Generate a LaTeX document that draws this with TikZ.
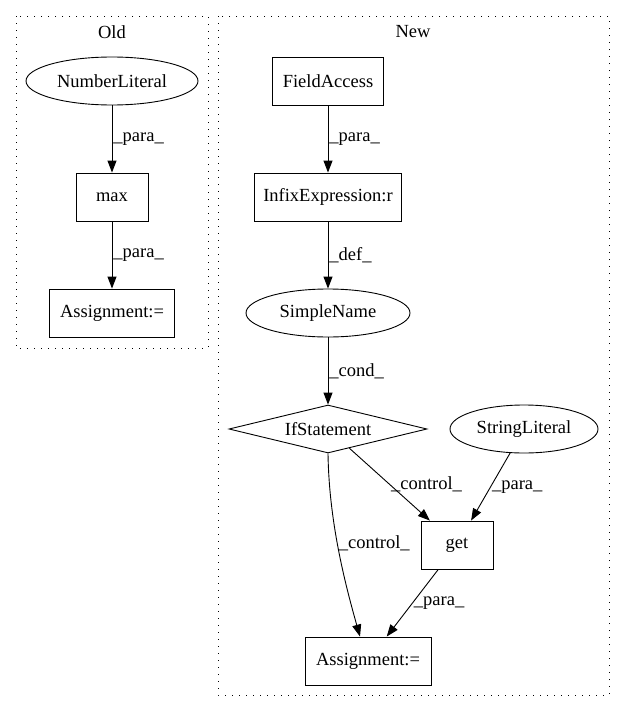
\documentclass[tikz,border=0pt]{standalone}
\usepackage{fontspec}
\setmainfont{Liberation Serif}
\usetikzlibrary{shapes.geometric}
\usetikzlibrary{arrows.meta}

\begin{document}
\begin{tikzpicture}[x=1pt,y=-1pt,font=\fontsize{18.5}{21}\selectfont,
	box/.style={draw,rectangle,line width=0.9pt,minimum height=48pt,inner sep=2pt},
	ellip/.style={draw,ellipse,line width=0.9pt,minimum height=48pt,inner sep=0pt},
	cluster/.style={line width=0.9pt,dash pattern=on 1.2pt off 5.8pt},
	edge/.style={line width=0.9pt,-{Triangle[length=12pt,width=9pt]}},
	lbl/.style={right,inner sep=1pt}]
\useasboundingbox (0,0) rectangle (625,712);
%\draw (0,0) rectangle (625,712);
\draw[cluster] (16,16) rectangle (208,348);
\draw[cluster] (218,16) rectangle (609,695);
\node (old) at (112,32) {Old};
\node (new) at (413,32) {New};
% old
\node[ellip,minimum width=172pt] (numlit) at (112,81) {NumberLiteral};
\node[box,minimum width=72pt] (max) at (112,197) {max};
\node[box,minimum width=125pt] (asgold) at (112,313) {Assignment:=};
% new
\node[box,minimum width=111pt] (field) at (328,81) {FieldAccess};
\node[box,minimum width=147pt] (infix) at (328,197) {InfixExpression:r};
\node[ellip,minimum width=164pt] (simple) at (328,313) {SimpleName};
\node[draw,diamond,aspect=4,line width=0.9pt,inner sep=0pt,
	minimum width=198pt,minimum height=48pt] (ifst) at (328,429) {IfStatement};
\node[ellip,minimum width=148pt] (strlit) at (524,429) {StringLiteral};
\node[box,minimum width=72pt] (get) at (457,545) {get};
\node[box,minimum width=126pt] (asgnew) at (368,661) {Assignment:=};

\draw[edge] (numlit) -- node[lbl] {\_para\_} (max);
\draw[edge] (max) -- node[lbl] {\_para\_} (asgold);
\draw[edge] (field) -- node[lbl] {\_para\_} (infix);
\draw[edge] (infix) -- node[lbl] {\_def\_} (simple);
\draw[edge] (simple) -- node[lbl] {\_cond\_} (ifst);
\draw[edge] (ifst.south) .. controls (329,520) and (344,580) .. node[lbl,pos=0.47] {\_control\_} ([xshift=-8pt]asgnew.north);
\draw[edge] (ifst) -- node[lbl] {\_control\_} (get);
\draw[edge] (strlit) -- node[lbl] {\_para\_} (get);
\draw[edge] (get) -- node[lbl] {\_para\_} (asgnew);
\end{tikzpicture}
\end{document}
